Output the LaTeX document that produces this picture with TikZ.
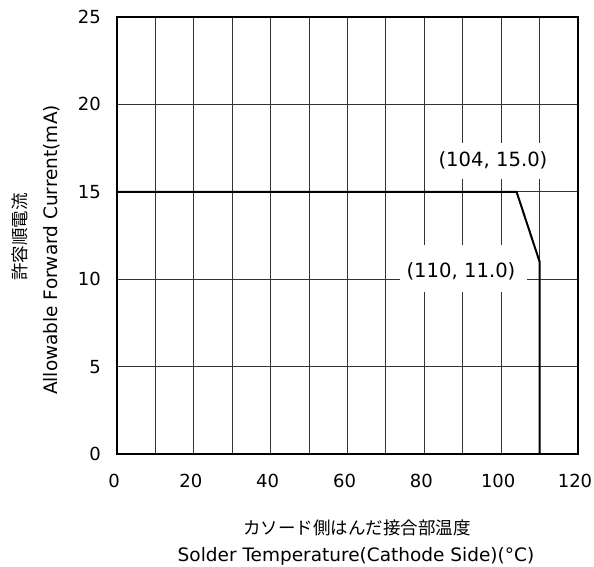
\documentclass[tikz,border=0pt]{standalone}
\usepackage{fontspec}
\setmainfont{DejaVu Sans}
\newfontfamily\jpfont{Noto Sans CJK JP}
\begin{document}
\begin{tikzpicture}[x=1bp,y=-1bp,
  font=\fontsize{18bp}{21bp}\selectfont,
  gridline/.style={line width=1bp, black!80},
  frameline/.style={line width=1.6bp, black},
  curveline/.style={line width=2bp, black, line join=miter},
  lab/.style={fill=white, inner sep=0pt},
  ptlab/.style={inner sep=0pt, font=\fontsize{19.6bp}{23bp}\selectfont},
  ticklab/.style={inner sep=0pt},
  entitle/.style={inner sep=0pt, font=\fontsize{18.5bp}{22bp}\selectfont},
  jp/.style={font=\jpfont\fontsize{17.5bp}{21bp}\selectfont, inner sep=0pt}]
\useasboundingbox (0,0) rectangle (594,567);
\begin{scope}[shift={(117,454)}, x=3.8417bp, y=17.48bp]
  \foreach \i in {1,...,11} \draw[gridline] (10*\i,0) -- (10*\i,25);
  \foreach \j in {5,10,15,20} \draw[gridline] (0,\j) -- (120,\j);
\end{scope}
\node[lab, minimum width=122bp, minimum height=36bp] (l1) at (493,161) {};
\node[ptlab] (l1t) at (493,160) {(104, 15.0)};
\node[lab, minimum width=127bp, minimum height=47bp] (l2) at (463,268.5) {};
\node[ptlab] (l2t) at (461,271) {(110, 11.0)};
\begin{scope}[shift={(117,454)}, x=3.8417bp, y=17.48bp]
  \draw[frameline] (0,0) rectangle (120,25);
  \coordinate (p0) at (0,15);
  \coordinate (p1) at (104,15);
  \coordinate (p2) at (110,11);
  \coordinate (p3) at (110,0);
  \draw[curveline] (p0) -- (p1) -- (p2) -- (p3);
  \foreach \v in {0,5,...,25}
    \node[ticklab, anchor=east] (y\v) at ([xshift=-16bp]0,\v) {\v};
  \foreach \t in {0,20,...,120}
    \node[ticklab] (x\t) at ([xshift=-3bp,yshift=-27bp]\t,0) {\t};
\end{scope}
\node[entitle, rotate=90] (ytitle) at (52,250) {Allowable Forward Current(mA)};
\node[jp, rotate=90] (ytitlejp) at (20,237) {許容順電流};
\node[jp] (xtitlejp) at (357,528) {カソード側はんだ接合部温度};
\node[entitle] (xtitle) at (356,556) {Solder Temperature(Cathode Side)(°C)};
\end{tikzpicture}
\end{document}
